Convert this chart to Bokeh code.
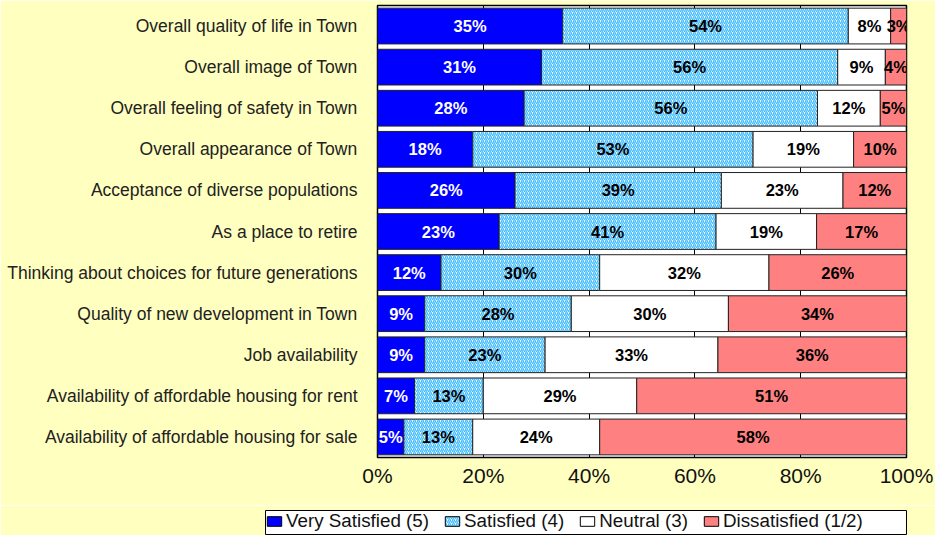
from bokeh.plotting import figure
from bokeh.models import ColumnDataSource, FactorRange, Legend, LegendItem, NumeralTickFormatter, FixedTicker
from bokeh.core.properties import value
from bokeh.embed import file_html
from bokeh.resources import INLINE

categories = [
    "Overall quality of life in Town",
    "Overall image of Town",
    "Overall feeling of safety in Town",
    "Overall appearance of Town",
    "Acceptance of diverse populations",
    "As a place to retire",
    "Thinking about choices for future generations",
    "Quality of new development in Town",
    "Job availability",
    "Availability of affordable housing for rent",
    "Availability of affordable housing for sale",
]
very_satisfied = [35, 31, 28, 18, 26, 23, 12, 9, 9, 7, 5]
satisfied = [54, 56, 56, 53, 39, 41, 30, 28, 23, 13, 13]
neutral = [8, 9, 12, 19, 23, 19, 32, 30, 33, 29, 24]
dissatisfied = [3, 4, 5, 10, 12, 17, 26, 34, 36, 51, 58]
series_names = ["Very Satisfied (5)", "Satisfied (4)", "Neutral (3)", "Dissatisfied (1/2)"]
x_ticks = [0, 0.2, 0.4, 0.6, 0.8, 1.0]

BG = "#FFFFC0"
series = [very_satisfied, satisfied, neutral, dissatisfied]
fills = ["#0000FF", "#FFFFFF", "#FFFFFF", "#FF8080"]
text_colors = ["#FFFFFF", "#000000", "#000000", "#000000"]
hatch_kw = dict(hatch_pattern="/", hatch_color="#40BCFF", hatch_scale=4, hatch_weight=1.4)

p = figure(width=935, height=505, output_backend="svg", toolbar_location=None,
           y_range=FactorRange(factors=list(reversed(categories))),
           x_range=(0, 1))
p.min_border_left = 377
p.min_border_right = 29
p.min_border_top = 5
p.min_border_bottom = 48
p.background_fill_color = "#FFFFFF"
p.border_fill_color = BG
p.outline_line_color = "#000000"
p.outline_line_width = 1.5

totals = [sum(v) for v in zip(*series)]
left = [0.0] * len(categories)
for i, vals in enumerate(series):
    share = [v / t for v, t in zip(vals, totals)]
    right = [l + s for l, s in zip(left, share)]
    mid = [(l + r) / 2 for l, r in zip(left, right)]
    src = ColumnDataSource(dict(y=categories, left=left, right=right, mid=mid,
                                lab=[f"{v}%" for v in vals]))
    kw = hatch_kw if i == 1 else {}
    p.hbar(y="y", left="left", right="right", height=0.87, source=src,
           fill_color=fills[i], line_color="#222222", line_width=1, **kw)
    p.text(x="mid", y="y", text="lab", source=src, text_align="center",
           text_baseline="middle", text_font=value("Liberation Sans"),
           text_font_style="bold", text_font_size="16.5px", text_color=text_colors[i])
    left = right

p.xgrid.ticker = FixedTicker(ticks=x_ticks)
p.xgrid.grid_line_color = "#000000"
p.xgrid.grid_line_width = 1
p.ygrid.grid_line_color = None

p.xaxis.ticker = FixedTicker(ticks=x_ticks)
p.xaxis.formatter = NumeralTickFormatter(format="0%")
p.xaxis.axis_line_color = None
p.xaxis.major_tick_line_color = None
p.xaxis.minor_tick_line_color = None
p.xaxis.major_label_text_font = "Liberation Sans"
p.xaxis.major_label_text_font_size = "21px"
p.xaxis.major_label_text_color = "#111111"
p.xaxis.major_label_standoff = 0

p.yaxis.axis_line_color = None
p.yaxis.major_tick_line_color = None
p.yaxis.minor_tick_line_color = None
p.yaxis.major_label_text_font = "Liberation Sans"
p.yaxis.major_label_text_font_size = "17.5px"
p.yaxis.major_label_text_color = "#222222"
p.yaxis.major_label_standoff = 14

# legend strip: its frame forms the white legend box
q = figure(width=935, height=30, output_backend="svg", toolbar_location=None,
           x_range=(0, 1), y_range=(0, 1))
q.min_border_left = 265
q.min_border_right = 29
q.min_border_top = 5
q.min_border_bottom = 0
q.axis.visible = False
q.grid.visible = False
q.outline_line_color = "#000000"
q.outline_line_width = 1
q.background_fill_color = "#FFFFFF"
q.border_fill_color = BG
leg_rs = []
for i in range(4):
    kw = hatch_kw if i == 1 else {}
    leg_rs.append(q.rect(x=[-5], y=[-5], width=1, height=1,
                         fill_color=fills[i], line_color="#000000", line_width=1, **kw))
legend = Legend(items=[LegendItem(label=n, renderers=[r]) for n, r in zip(series_names, leg_rs)],
                orientation="horizontal", location="top_left")
legend.label_text_font = "Liberation Sans"
legend.label_text_font_size = "18.8px"
legend.label_text_color = "#111111"
legend.glyph_width = 18
legend.glyph_height = 12
legend.label_standoff = 3
legend.spacing = 14
legend.padding = 5
legend.margin = 0
legend.border_line_color = None
legend.background_fill_alpha = 0
q.add_layout(legend, "center")

html = file_html([p, q], INLINE)
html = html.replace("<body>", f'<body style="background:{BG}">', 1)
open("out.html", "w").write(html)
